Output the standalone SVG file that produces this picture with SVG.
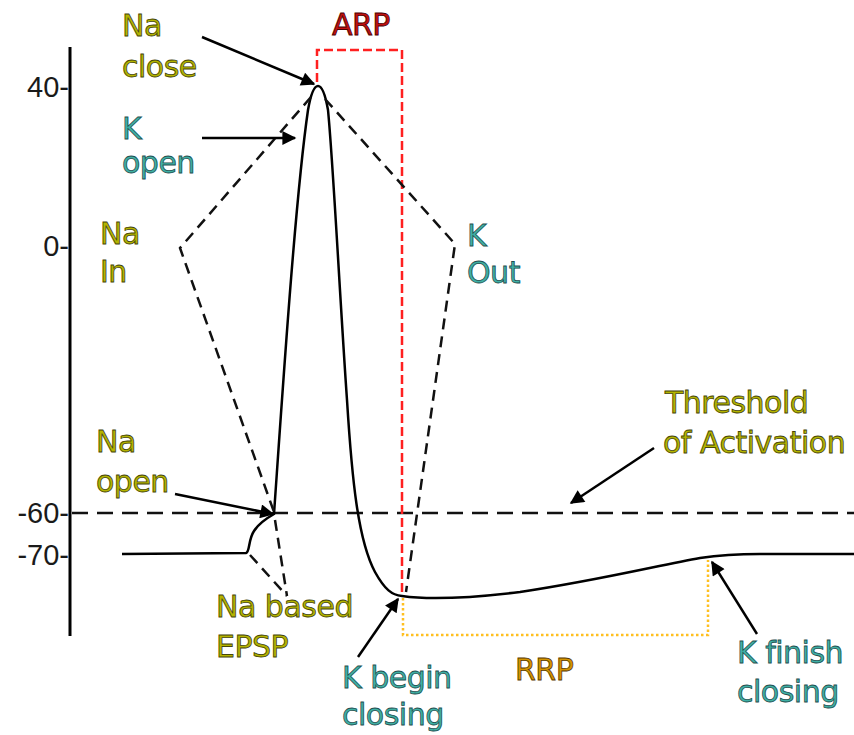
<svg xmlns="http://www.w3.org/2000/svg" width="854" height="735" viewBox="0 0 854 735">
<defs>
<style>
.lbl{font-family:"DejaVu Sans","Liberation Sans",sans-serif;font-size:30px;stroke-width:0.8px;letter-spacing:-0.5px}
.olive{fill:#b4b400;stroke:#45450a}
.teal{fill:#3fb0a4;stroke:#1f4f4f}
.arp{fill:#c01010;stroke:#4a0000}
.rrp{fill:#d49400;stroke:#5a3a00}
.tick{font-family:"Liberation Sans",Arial,sans-serif;font-size:29px;fill:#1a1a1a}
.dash{fill:none;stroke:#111;stroke-width:2.5;stroke-dasharray:11,7}
.arrow{fill:none;stroke:#000;stroke-width:2.5;marker-end:url(#ah)}
</style>
<marker id="ah" viewBox="0 0 10 10" refX="9" refY="5" markerWidth="7.5" markerHeight="5.6" markerUnits="strokeWidth" orient="auto">
<path d="M0,0 L10,5 L0,10 Z" fill="#000"/>
</marker>
</defs>
<rect width="854" height="735" fill="#fff"/>

<g id="axis">
<path d="M70,47 L70,636" stroke="#000" stroke-width="3"/>
<text class="tick" x="69" y="97" text-anchor="end">40-</text>
<text class="tick" x="69" y="256" text-anchor="end">0-</text>
<text class="tick" x="69" y="523" text-anchor="end">-60-</text>
<text class="tick" x="69" y="565" text-anchor="end">-70-</text>
</g>

<g id="threshold-line">
<path d="M72,513 L854,513" fill="none" stroke="#111" stroke-width="2.5" stroke-dasharray="16,9"/>
</g>

<g id="arp-box">
<path d="M317,82 L317,50 L402,50 L402,596" fill="none" stroke="#ff2020" stroke-width="2.5" stroke-dasharray="9,4"/>
</g>

<g id="rrp-box">
<path d="M403,598 L403,635 L708,635 L708,560" fill="none" stroke="#ffbf20" stroke-width="2.5" stroke-dasharray="2.5,2.5"/>
</g>

<g id="action-potential">
<path d="M122,554 L246,553 C250,552 248,540 254,531 C259,523 267,518 274,514 C282,400 295,200 308,110 C311,93 314,86 318,86 C322,86 325,93 328,110 C333,160 340,300 347,400 C352,480 358,540 375,572 C385,590 392,595 402,596 C430,600 470,598 520,592 C600,580 660,565 700,558 C720,555 740,554 760,554 L854,554" fill="none" stroke="#000" stroke-width="2.5"/>
</g>

<g id="connectors">
<path class="dash" d="M311,97 L180,248 L274,512"/>
<path class="dash" d="M325,99 L455,244 L406,592"/>
<path class="dash" d="M250,555 L287,596"/>
<path class="dash" d="M275,520 L287,596"/>
<path class="arrow" d="M202,37 L314,84"/>
<path class="arrow" d="M202,138 L295,138"/>
<path class="arrow" d="M175,494 L273,514"/>
<path class="arrow" d="M358,657 L398,599"/>
<path class="arrow" d="M654,448 L571,503"/>
<path class="arrow" d="M757,634 L712,562"/>
</g>

<g id="na-close"><text class="lbl olive" x="122" y="36">Na</text><text class="lbl olive" x="122" y="77">close</text></g>
<g id="k-open"><text class="lbl teal" x="122" y="139">K</text><text class="lbl teal" x="122" y="173">open</text></g>
<g id="na-in"><text class="lbl olive" x="100" y="244">Na</text><text class="lbl olive" x="100" y="282">In</text></g>
<g id="k-out"><text class="lbl teal" x="467" y="246">K</text><text class="lbl teal" x="467" y="283">Out</text></g>
<g id="arp"><text class="lbl arp" x="332" y="35">ARP</text></g>
<g id="threshold"><text class="lbl olive" x="665" y="413">Threshold</text><text class="lbl olive" x="663" y="453">of Activation</text></g>
<g id="na-open"><text class="lbl olive" x="96" y="452">Na</text><text class="lbl olive" x="96" y="492">open</text></g>
<g id="na-epsp"><text class="lbl olive" x="216" y="617">Na based</text><text class="lbl olive" x="216" y="657">EPSP</text></g>
<g id="k-begin"><text class="lbl teal" x="342" y="688">K begin</text><text class="lbl teal" x="342" y="725">closing</text></g>
<g id="rrp"><text class="lbl rrp" x="515" y="680">RRP</text></g>
<g id="k-finish"><text class="lbl teal" x="737" y="663">K finish</text><text class="lbl teal" x="737" y="702">closing</text></g>
</svg>
